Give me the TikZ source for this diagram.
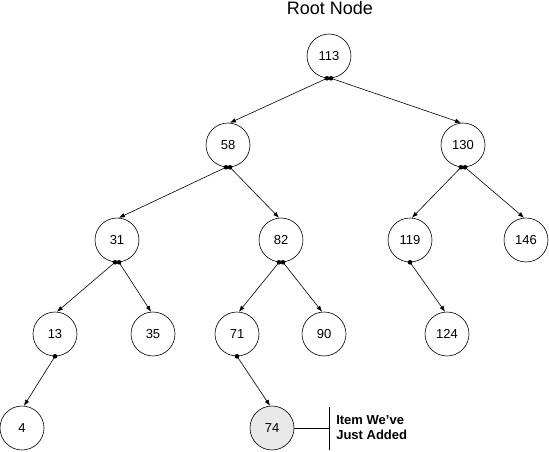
\documentclass[tikz,border=0pt]{standalone}
\usepackage{fontspec}
\setmainfont{Liberation Sans}
\usetikzlibrary{arrows.meta}
\begin{document}
\begin{tikzpicture}[>={Latex[length=6pt,width=4.5pt]}, x=1pt, y=-1pt, line width=.6pt,
  nd/.style={draw, circle, minimum size=44pt, inner sep=0pt, font=\fontsize{13}{15}\selectfont}]
\useasboundingbox (0,0) rectangle (549,452);
\node at (330,15)[anchor=base, font=\fontsize{18}{20}\selectfont] (title) {Root Node};
\node at (329,56)[nd] (n113) {113};
\node at (228,145)[nd] (n58) {58};
\node at (463,145)[nd] (n130) {130};
\node at (117,240)[nd] (n31) {31};
\node at (281,240)[nd] (n82) {82};
\node at (410,240)[nd] (n119) {119};
\node at (526,240)[nd] (n146) {146};
\node at (55,334)[nd] (n13) {13};
\node at (153,334)[nd] (n35) {35};
\node at (237,334)[nd] (n71) {71};
\node at (324,334)[nd] (n90) {90};
\node at (447,334)[nd] (n124) {124};
\node at (22,428)[nd] (n4) {4};
\node at (272,428)[nd, fill=black!9] (n74) {74};
\fill ([xshift=-2pt]n113.south) circle (2.3pt) ([xshift=2pt]n113.south) circle (2.3pt);
\draw[->] ([xshift=-2pt]n113.south)--(n58.85);
\draw[->] ([xshift=2pt]n113.south)--(n130.95);
\fill ([xshift=-2pt]n58.south) circle (2.3pt) ([xshift=2pt]n58.south) circle (2.3pt);
\draw[->] ([xshift=-2pt]n58.south)--(n31.85);
\draw[->] ([xshift=2pt]n58.south)--(n82.95);
\fill ([xshift=-2pt]n130.south) circle (2.3pt) ([xshift=2pt]n130.south) circle (2.3pt);
\draw[->] ([xshift=-2pt]n130.south)--(n119.85);
\draw[->] ([xshift=2pt]n130.south)--(n146.95);
\fill ([xshift=-2pt]n31.south) circle (2.3pt) ([xshift=2pt]n31.south) circle (2.3pt);
\draw[->] ([xshift=-2pt]n31.south)--(n13.85);
\draw[->] ([xshift=2pt]n31.south)--(n35.95);
\fill ([xshift=-2pt]n82.south) circle (2.3pt) ([xshift=2pt]n82.south) circle (2.3pt);
\draw[->] ([xshift=-2pt]n82.south)--(n71.85);
\draw[->] ([xshift=2pt]n82.south)--(n90.95);
\fill (n119.south) circle (2.3pt);
\draw[->] (n119.south)--(n124.95);
\fill (n13.south) circle (2.3pt);
\draw[->] (n13.south)--(n4.85);
\fill (n71.south) circle (2.3pt);
\draw[->] (n71.south)--(n74.95);
\coordinate (bt) at (329,407);
\coordinate (bb) at (329,450);
\draw (bt)--(bb);
\draw (n74.east)--(n74.east -| bt);
\node at (336,428)[anchor=west, align=left, inner sep=0pt, font=\bfseries\fontsize{13}{15}\selectfont] (note) {Item We've\\Just Added};
\end{tikzpicture}
\end{document}
